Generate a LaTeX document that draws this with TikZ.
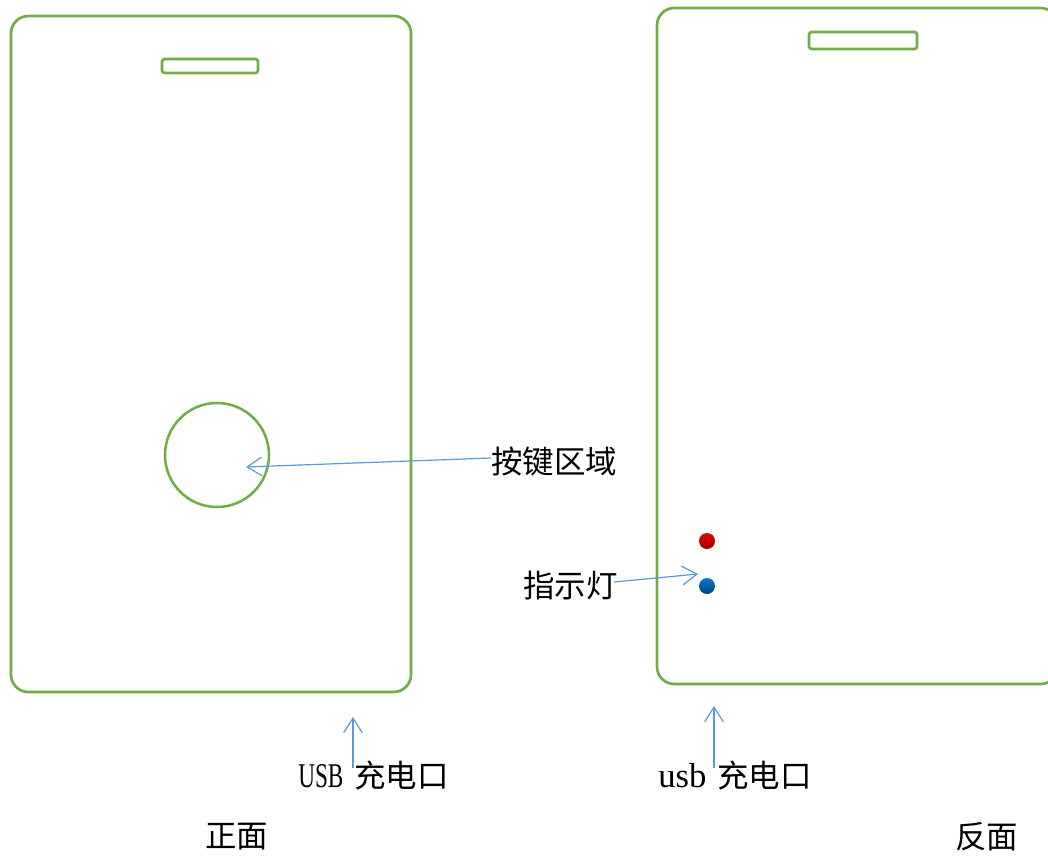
\documentclass[tikz,border=0pt]{standalone}
\usepackage{fontspec}
\setmainfont{Liberation Serif}
\newfontfamily\cjk{Noto Sans CJK SC}
\usetikzlibrary{arrows.meta}
\definecolor{cardgreen}{HTML}{70AD47}
\definecolor{arrowblue}{HTML}{5B9BD5}
\definecolor{ledred}{HTML}{E00000}
\definecolor{ledredd}{HTML}{9A0000}
\definecolor{ledblue}{HTML}{0A78D0}
\definecolor{ledblued}{HTML}{00467E}
\newcommand{\latin}[2]{{\rmfamily\fontsize{26}{28}\selectfont\scalebox{#1}[1]{#2}}}
\tikzset{
  card/.style={draw=cardgreen, line width=2pt, rounded corners=13pt},
  slot/.style={draw=cardgreen, line width=2pt, rounded corners=2pt},
  lbl/.style={anchor=west, inner sep=0pt, font=\fontsize{23.6}{27}\selectfont\cjk},
  pointer/.style={draw=arrowblue, line width=0.9pt, -{Straight Barb[length=11pt,width=14pt,line width=0.9pt]}},
  led/.style={circle, inner sep=0pt, minimum size=12pt}
}
\begin{document}
\begin{tikzpicture}[x=0.75pt,y=-0.75pt]
\useasboundingbox (0,0) rectangle (1048,856);
\clip (0,0) rectangle (1048,856);
% front card
\draw[card] (11,16) rectangle (411,692);
\draw[slot] (162,59) rectangle (258,73);
\node[draw=cardgreen, line width=1.9pt, circle, minimum size=78pt, inner sep=0pt] (button) at (217,455) {};
% back card
\draw[card] (657,8) rectangle (1058,684);
\draw[slot] (809,32) rectangle (917,49);
\node[led, top color=ledred, bottom color=ledredd] (redled) at (707,541) {};
\node[led, top color=ledblue, bottom color=ledblued] (blueled) at (707,586) {};
% labels
\node[lbl] (keylabel) at (491,462) {按键区域};
\node[lbl] (lamplabel) at (523,586) {指示灯};
\node[lbl] (usbfront) at (298,775) {\latin{0.67}{USB}\hspace{3pt} 充电口};
\node[lbl] (usbback) at (658,775) {\latin{1}{usb}\hspace{3pt} 充电口};
\node[lbl] (frontlabel) at (205,837) {正面};
\node[lbl] (backlabel) at (955,837) {反面};
% pointer targets
\coordinate (btnpt) at (246,467);
\coordinate (ledpt) at (698,574);
\coordinate (usbtipf) at (353,717);
\coordinate (usbtipb) at (714,706);
% connectors
\draw[pointer] ([yshift=3pt]keylabel.west) -- (btnpt);
\draw[pointer] ([xshift=-3pt,yshift=3pt]lamplabel.east) -- (ledpt);
\draw[pointer] (usbtipf |- usbfront.north) ++(0,8) -- (usbtipf);
\draw[pointer] (usbtipb |- usbback.north) ++(0,8) -- (usbtipb);
\end{tikzpicture}
\end{document}
